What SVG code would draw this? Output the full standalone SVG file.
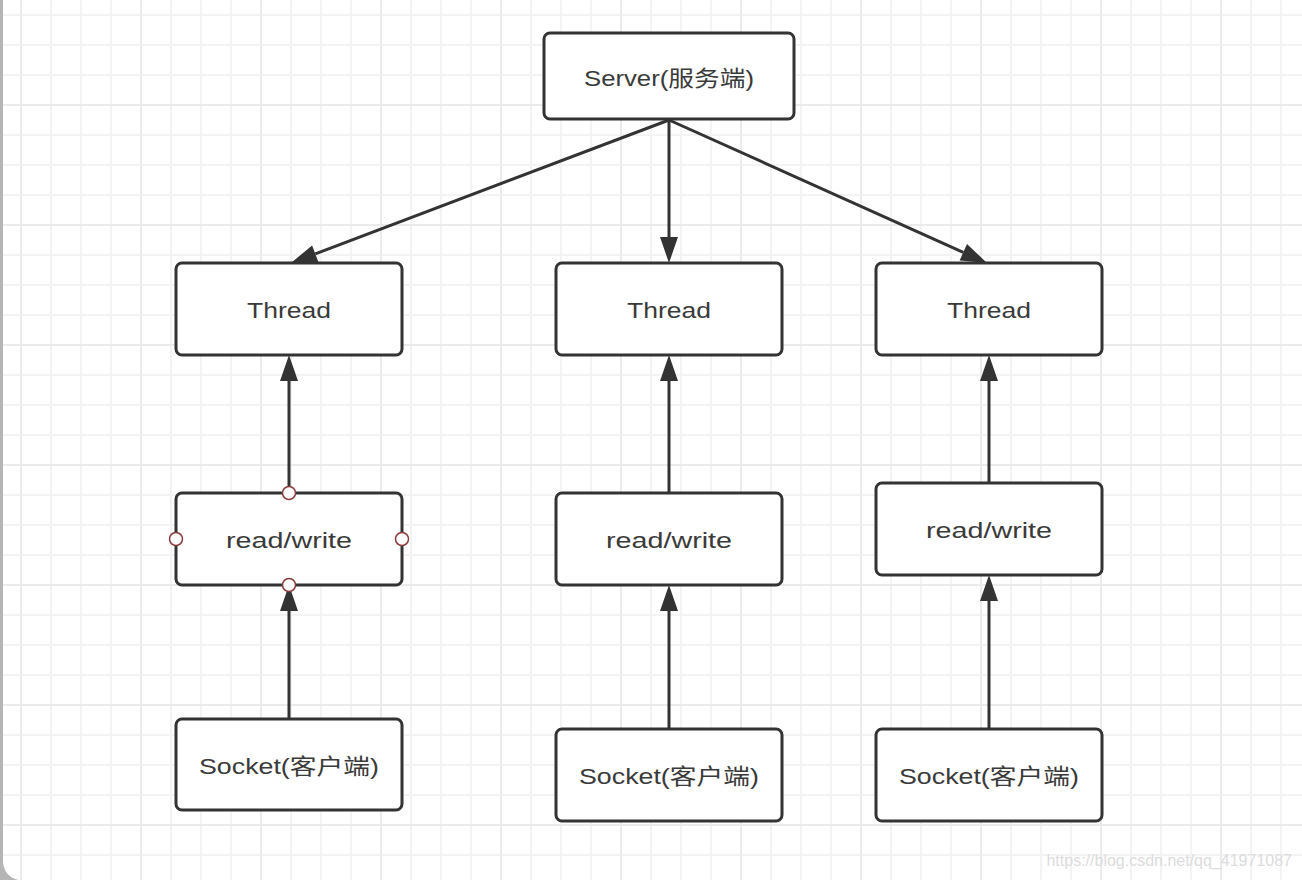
<svg xmlns="http://www.w3.org/2000/svg" width="1302" height="880" viewBox="0 0 1302 880">
<defs>
<pattern id="minor" patternUnits="userSpaceOnUse" x="6" y="0" width="30" height="30">
<path d="M15 0V30M0 15H30" stroke="#f3f3f3" stroke-width="2" fill="none"/>
</pattern>
<pattern id="major" patternUnits="userSpaceOnUse" x="81" y="45" width="120" height="120">
<path d="M60 0V120M0 60H120" stroke="#ebebeb" stroke-width="2" fill="none"/>
</pattern>
<marker id="arr" markerUnits="userSpaceOnUse" markerWidth="30" markerHeight="22" refX="0" refY="11" orient="auto" overflow="visible">
<path d="M0 2 L26 11 L0 20 Z" fill="#333"/>
</marker>
</defs>
<style>
.box{fill:#fff;stroke:#333;stroke-width:3}
.lbl{font-family:"Liberation Sans","Noto Sans CJK SC",sans-serif;font-size:22px;fill:#3a3a3a;text-anchor:middle}
.edge{stroke:#333;stroke-width:3;fill:none;marker-end:url(#arr)}
.pt{fill:#fff;stroke:#8b3a3a;stroke-width:1.5}
</style>
<rect width="1302" height="880" fill="#fff"/>
<rect width="1302" height="880" fill="url(#minor)"/>
<rect width="1302" height="880" fill="url(#major)"/>
<rect x="0" y="0" width="3" height="880" fill="#b5b5b5"/>
<path d="M0 862 L3 862 Q4 876 18 880 L0 880 Z" fill="#b5b5b5"/>

<g id="connectors">
<line class="edge" x1="669" y1="120" x2="315.3" y2="253.8"/>
<line class="edge" x1="669" y1="120" x2="669" y2="237"/>
<line class="edge" x1="669" y1="120" x2="963.3" y2="252.3"/>
<line class="edge" x1="289" y1="493" x2="289" y2="381"/>
<line class="edge" x1="289" y1="719" x2="289" y2="611"/>
<line class="edge" x1="669" y1="493" x2="669" y2="381"/>
<line class="edge" x1="669" y1="729" x2="669" y2="611"/>
<line class="edge" x1="989" y1="483" x2="989" y2="381"/>
<line class="edge" x1="989" y1="729" x2="989" y2="601"/>
</g>

<g id="server">
<rect class="box" x="544" y="33" width="250" height="86" rx="6"/>
<text class="lbl" x="669" y="86" textLength="170" lengthAdjust="spacingAndGlyphs">Server(服务端)</text>
</g>
<g id="thread1">
<rect class="box" x="176" y="263" width="226" height="92" rx="6"/>
<text class="lbl" x="289" y="318" textLength="84" lengthAdjust="spacingAndGlyphs">Thread</text>
</g>
<g id="thread2">
<rect class="box" x="556" y="263" width="226" height="92" rx="6"/>
<text class="lbl" x="669" y="318" textLength="84" lengthAdjust="spacingAndGlyphs">Thread</text>
</g>
<g id="thread3">
<rect class="box" x="876" y="263" width="226" height="92" rx="6"/>
<text class="lbl" x="989" y="318" textLength="84" lengthAdjust="spacingAndGlyphs">Thread</text>
</g>
<g id="rw1">
<rect class="box" x="176" y="493" width="226" height="92" rx="6"/>
<text class="lbl" x="289" y="548" textLength="126" lengthAdjust="spacingAndGlyphs">read/write</text>
<circle class="pt" cx="289" cy="493" r="6.5"/>
<circle class="pt" cx="176" cy="539" r="6.5"/>
<circle class="pt" cx="402" cy="539" r="6.5"/>
<circle class="pt" cx="289" cy="585" r="6.5"/>
</g>
<g id="rw2">
<rect class="box" x="556" y="493" width="226" height="92" rx="6"/>
<text class="lbl" x="669" y="548" textLength="126" lengthAdjust="spacingAndGlyphs">read/write</text>
</g>
<g id="rw3">
<rect class="box" x="876" y="483" width="226" height="92" rx="6"/>
<text class="lbl" x="989" y="538" textLength="126" lengthAdjust="spacingAndGlyphs">read/write</text>
</g>
<g id="socket1">
<rect class="box" x="176" y="719" width="226" height="91" rx="6"/>
<text class="lbl" x="289" y="774" textLength="180" lengthAdjust="spacingAndGlyphs">Socket(客户端)</text>
</g>
<g id="socket2">
<rect class="box" x="556" y="729" width="226" height="92" rx="6"/>
<text class="lbl" x="669" y="784" textLength="180" lengthAdjust="spacingAndGlyphs">Socket(客户端)</text>
</g>
<g id="socket3">
<rect class="box" x="876" y="729" width="226" height="92" rx="6"/>
<text class="lbl" x="989" y="784" textLength="180" lengthAdjust="spacingAndGlyphs">Socket(客户端)</text>
</g>
<text x="1292" y="866" font-family="Liberation Sans, sans-serif" font-size="16" fill="#dcdcdc" text-anchor="end">https://blog.csdn.net/qq_41971087</text>
</svg>
